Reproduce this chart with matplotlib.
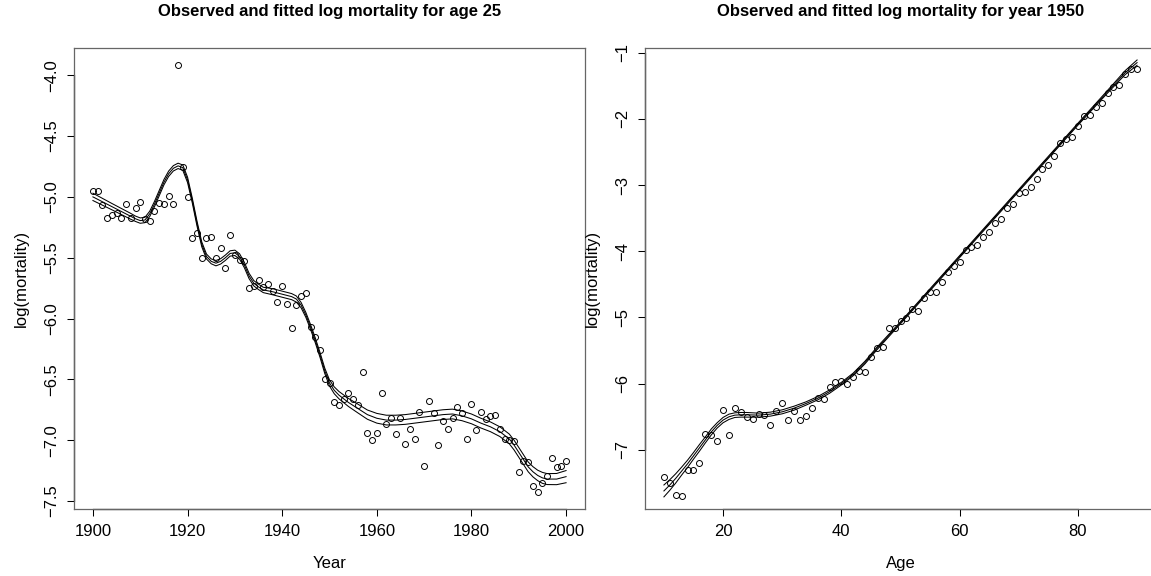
import matplotlib
matplotlib.use("Agg")
import matplotlib.pyplot as plt
import numpy as np

plt.rcParams["font.family"] = ["Liberation Sans", "DejaVu Sans"]

# age 25, by year: observed log mortality
years = list(range(1900, 2001))
obs_age25 = [
    -4.95, -4.95, -5.07, -5.17, -5.15, -5.135, -5.17, -5.06, -5.17, -5.09,
    -5.04, -5.18, -5.20, -5.12, -5.05, -5.06, -4.99, -5.06, -3.915, -4.754,
    -5.00, -5.34, -5.30, -5.50, -5.34, -5.33, -5.505, -5.42, -5.585, -5.316,
    -5.478, -5.52, -5.525, -5.75, -5.73, -5.683, -5.744, -5.716, -5.771, -5.861,
    -5.733, -5.88, -6.08, -5.886, -5.815, -5.79, -6.07, -6.155, -6.26, -6.50,
    -6.53, -6.69, -6.71, -6.66, -6.61, -6.66, -6.71, -6.44, -6.94, -7.00,
    -6.94, -6.615, -6.87, -6.82, -6.95, -6.82, -7.03, -6.91, -6.99, -6.77,
    -7.21, -6.68, -6.775, -7.04, -6.84, -6.91, -6.82, -6.73, -6.78, -6.99,
    -6.705, -6.92, -6.77, -6.83, -6.80, -6.79, -6.905, -6.99, -7.00, -7.01,
    -7.26, -7.17, -7.18, -7.38, -7.43, -7.35, -7.295, -7.15, -7.22, -7.21,
    -7.17,
]

# age 25: fitted curve and half width of the band
fit_years = [
    1900, 1902, 1904, 1906, 1908, 1909, 1910, 1911, 1912, 1913, 1914, 1915,
    1916, 1917, 1918, 1919, 1920, 1921, 1922, 1923, 1924, 1925, 1926, 1927,
    1928, 1929, 1930, 1931, 1932, 1933, 1934, 1935, 1936, 1938, 1940, 1942,
    1943, 1944, 1945, 1946, 1947, 1948, 1949, 1950, 1951, 1952, 1954, 1956,
    1958, 1960, 1962, 1964, 1966, 1968, 1970, 1972, 1974, 1976, 1978, 1980,
    1982, 1984, 1986, 1988, 1989, 1990, 1991, 1992, 1993, 1994, 1995, 1996,
    1998, 2000,
]
fit_age25 = [
    -5.00, -5.04, -5.08, -5.12, -5.16, -5.18, -5.195, -5.19, -5.14, -5.06, -4.97, -4.88,
    -4.81, -4.765, -4.745, -4.76, -4.86, -5.03, -5.22, -5.39, -5.49, -5.53, -5.545, -5.53,
    -5.50, -5.465, -5.46, -5.49, -5.56, -5.65, -5.71, -5.74, -5.765, -5.78, -5.80, -5.82,
    -5.84, -5.89, -5.97, -6.07, -6.18, -6.30, -6.43, -6.53, -6.59, -6.63, -6.69, -6.74,
    -6.79, -6.82, -6.835, -6.835, -6.83, -6.82, -6.81, -6.80, -6.79, -6.785, -6.80, -6.825,
    -6.86, -6.89, -6.93, -6.99, -7.04, -7.10, -7.16, -7.22, -7.26, -7.29, -7.31, -7.32,
    -7.32, -7.30,
]
band_age25 = (
    [0.03, 0.028, 0.026, 0.025, 0.024]
    + [0.022] * 12 + [0.02] * 5 + [0.022] * 11
    + [0.025, 0.025, 0.025]
    + [0.025, 0.022, 0.02, 0.02, 0.02, 0.02, 0.022, 0.025, 0.028, 0.03]
    + [0.033, 0.036, 0.038] + [0.04] * 15
    + [0.04, 0.04, 0.04, 0.04, 0.042, 0.043, 0.045, 0.045]
    + [0.046, 0.05]
)

# year 1950, by age: observed log mortality
ages = list(range(10, 91))
obs_1950 = [
    -7.415, -7.505, -7.68, -7.70, -7.30, -7.31, -7.20, -6.76, -6.77, -6.87,
    -6.39, -6.78, -6.36, -6.43, -6.50, -6.53, -6.46, -6.47, -6.63, -6.42,
    -6.29, -6.55, -6.41, -6.545, -6.49, -6.36, -6.22, -6.23, -6.045, -5.98,
    -5.955, -6.01, -5.90, -5.81, -5.83, -5.60, -5.46, -5.44, -5.16, -5.16,
    -5.05, -5.01, -4.87, -4.90, -4.70, -4.615, -4.61, -4.47, -4.31, -4.22,
    -4.155, -3.985, -3.935, -3.905, -3.79, -3.71, -3.57, -3.517, -3.34, -3.285,
    -3.12, -3.11, -3.034, -2.908, -2.762, -2.696, -2.56, -2.369, -2.298, -2.273,
    -2.107, -1.956, -1.946, -1.823, -1.765, -1.608, -1.513, -1.483, -1.317, -1.24,
    -1.25,
]

fit_ages = [
    10, 11, 12, 13, 14, 15, 16, 17, 18, 19, 20, 21, 22, 23, 24, 26, 28, 30,
    32, 34, 36, 38, 40, 42, 44, 46, 50, 55, 60, 65, 70, 75, 80, 85, 88, 90,
]
fit_1950 = [
    -7.62, -7.53, -7.43, -7.32, -7.21, -7.09, -6.97, -6.85, -6.73, -6.63, -6.55, -6.50,
    -6.475, -6.47, -6.47, -6.475, -6.46, -6.425, -6.37, -6.30, -6.22, -6.12, -6.00, -5.86,
    -5.68, -5.47, -5.08, -4.58, -4.08, -3.58, -3.08, -2.58, -2.08, -1.59, -1.30, -1.15,
]
band_1950 = [
    0.09, 0.08, 0.07, 0.06, 0.055, 0.05, 0.05, 0.045, 0.045, 0.04, 0.04, 0.04,
    0.035, 0.035, 0.035, 0.03, 0.03, 0.03, 0.03, 0.025, 0.025, 0.025, 0.02, 0.02,
    0.02, 0.02, 0.015, 0.015, 0.015, 0.015, 0.015, 0.015, 0.015, 0.02, 0.03, 0.04,
]

x_ticks_left = [1900, 1920, 1940, 1960, 1980, 2000]
y_ticks_left = [-4.0, -4.5, -5.0, -5.5, -6.0, -6.5, -7.0, -7.5]
x_ticks_right = [20, 40, 60, 80]
y_ticks_right = [-1, -2, -3, -4, -5, -6, -7]


def _draw_panel(ax, x, y, fx, fmid, fhalf, xticks, yticks, ylabels, title, xlabel):
    fmid = np.asarray(fmid)
    fhalf = np.asarray(fhalf)
    for line in (fmid + fhalf, fmid, fmid - fhalf):
        ax.plot(fx, line, color="black", linewidth=0.75)
    ax.plot(x, y, linestyle="none", marker="o", markersize=4.3,
            markerfacecolor="none", markeredgecolor="black", markeredgewidth=0.7)

    for spine in ax.spines.values():
        spine.set_color("#666666")
        spine.set_linewidth(0.9)
    # R style axis lines, first to last tick only
    ax.plot([xticks[0], xticks[-1]], [0, 0], transform=ax.get_xaxis_transform(),
            color="black", linewidth=0.9, clip_on=False)
    ax.plot([0, 0], [yticks[-1], yticks[0]], transform=ax.get_yaxis_transform(),
            color="black", linewidth=0.9, clip_on=False)

    ax.set_xticks(xticks)
    ax.set_xticklabels([str(t) for t in xticks])
    ax.set_yticks(yticks)
    ax.set_yticklabels(ylabels, rotation=90, va="center")
    ax.tick_params(direction="out", length=5, width=0.75, color="black",
                   labelsize=12, pad=6)
    ax.set_xlabel(xlabel, fontsize=12, labelpad=12)
    ax.set_ylabel("log(mortality)", fontsize=12, labelpad=11)
    ax.set_title(title, fontsize=12, fontweight="bold", pad=23)


fig = plt.figure(figsize=(11.51, 5.76), dpi=100)
W, H = 1151, 576
ax_left = fig.add_axes([74 / W, 67 / H, 511 / W, 461 / H])
ax_right = fig.add_axes([645 / W, 67 / H, 511 / W, 461 / H])

_draw_panel(
    ax_left, years, obs_age25, fit_years, fit_age25, band_age25,
    x_ticks_left, y_ticks_left, [f"\u2212{abs(t):.1f}" for t in y_ticks_left],
    "Observed and fitted log mortality for age 25", "Year",
)
ax_left.set_xlim(1896, 2004)
ax_left.set_ylim(-7.566, -3.776)

_draw_panel(
    ax_right, ages, obs_1950, fit_ages, fit_1950, band_1950,
    x_ticks_right, y_ticks_right, [f"\u2212{abs(t)}" for t in y_ticks_right],
    "Observed and fitted log mortality for year 1950", "Age",
)
ax_right.set_xlim(6.8, 93.2)
ax_right.set_ylim(-7.893, -0.929)

fig.savefig("out.png", dpi=100)
plt.close(fig)
